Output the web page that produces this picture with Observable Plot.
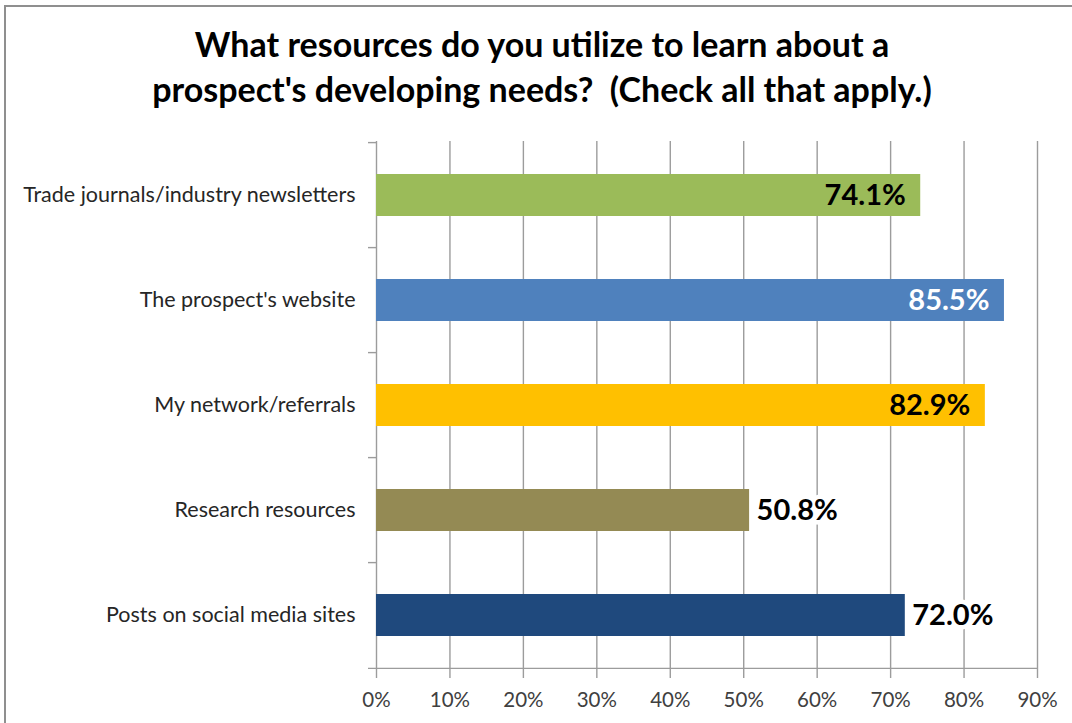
<!DOCTYPE html>
<html>
<head>
<meta charset="utf-8">
<script src="https://cdn.jsdelivr.net/npm/d3@7"></script>
<script src="https://cdn.jsdelivr.net/npm/@observablehq/plot@0.6"></script>
<style>
  html, body { margin: 0; padding: 0; background: #fff; }
  #wrap { position: relative; width: 1072px; height: 723px; overflow: hidden; background: #fff; }
  #frame { position: absolute; left: 4px; top: 5px; width: 1200px; height: 900px;
           border-top: 2px solid #8f8f8f; border-left: 2px solid #8f8f8f; box-sizing: border-box; }
  #title { position: absolute; left: 6px; top: 21px; width: 1072px; text-align: center; white-space: nowrap;
           font-family: Lato, sans-serif; font-weight: 700; font-size: 34px; line-height: 45px; color: #000; }
  #chart { position: absolute; left: 0; top: 131px; }
</style>
</head>
<body>
<div id="wrap">
  <div id="frame"></div>
  <div id="title"></div>
  <div id="chart"></div>
</div>
<script>
const titleLines = ["What resources do you utilize to learn about a", "prospect's developing needs?  (Check all that apply.)"];
const categories = ["Trade journals/industry newsletters", "The prospect's website", "My network/referrals", "Research resources", "Posts on social media sites"];
const values = [74.1, 85.5, 82.9, 50.8, 72.0];
const barColors = ["#9BBB59", "#4F81BD", "#FFC000", "#948A54", "#1F497D"];
const xTicks = [0, 10, 20, 30, 40, 50, 60, 70, 80, 90];
const outsideLabels = ["Research resources", "Posts on social media sites"];
const whiteLabels = ["The prospect's website"];

document.getElementById("title").innerHTML = titleLines.map(t => t.replace(/  /g, " &nbsp;")).join("<br>");

const data = categories.map((c, i) => ({cat: c, value: values[i], color: barColors[i]}));

const W = 1072, H = 592, mL = 376, mR = 35, mT = 10, mB = 53;
const step = (H - mT - mB) / categories.length;
const unitPerPx = 90 / (W - mL - mR);
const gray = "#9c9c9c";
const fmt = d => d.toFixed(1) + "%";

const chart = Plot.plot({
  width: W, height: H,
  marginLeft: mL, marginRight: mR, marginTop: mT, marginBottom: mB,
  style: {fontFamily: "Lato, sans-serif", background: "transparent", overflow: "visible"},
  x: {domain: [0, 90], label: null},
  y: {domain: categories, type: "band", paddingInner: 0.6, paddingOuter: 0.3, label: null},
  color: {type: "identity"},
  marks: [
    Plot.ruleX(xTicks, {stroke: gray, strokeWidth: 1.4}),
    Plot.barX(data, {x: "value", y: "cat", fill: "color"}),
    Plot.ruleY(categories, {y: d => d, x1: -8 * unitPerPx, x2: 0, dy: -step / 2, stroke: gray, strokeWidth: 1.4}),
    Plot.ruleY([categories[categories.length - 1]], {y: d => d, x1: -8 * unitPerPx, x2: 90, dy: step / 2, stroke: gray, strokeWidth: 1.4}),
    Plot.axisX({ticks: xTicks, tickFormat: d => d + "%", tickSize: 8, tickPadding: 14, stroke: gray, strokeWidth: 1.4, fontSize: 20.5, fill: "#404040", label: null}),
    Plot.axisY({tickSize: 0, tickPadding: 21, fontSize: 21.5, fill: "#262626", label: null}),
    Plot.text(data.filter(d => !outsideLabels.includes(d.cat)), {
      x: "value", y: "cat", text: d => fmt(d.value), textAnchor: "end", dx: -15,
      fill: d => whiteLabels.includes(d.cat) ? "#ffffff" : "#000000",
      fontSize: 29, fontWeight: 700
    }),
    Plot.text(data.filter(d => outsideLabels.includes(d.cat)), {
      x: "value", y: "cat", text: d => fmt(d.value), textAnchor: "start", dx: 7,
      fill: "#000000", stroke: "#ffffff", strokeWidth: 9, paintOrder: "stroke",
      fontSize: 29, fontWeight: 700
    })
  ]
});
document.getElementById("chart").appendChild(chart);
</script>
</body>
</html>
